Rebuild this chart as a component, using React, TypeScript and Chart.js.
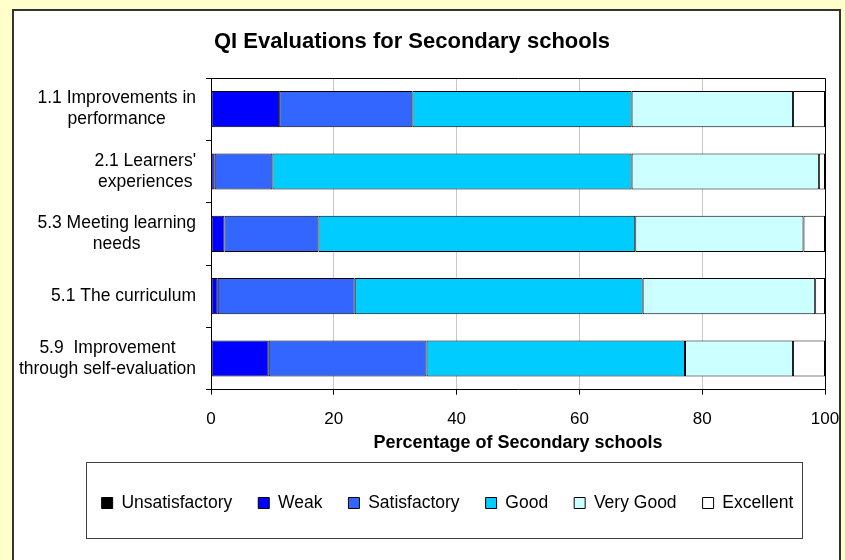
import React, { useEffect, useRef } from 'react';
import { Chart, registerables } from 'chart.js';

Chart.register(...registerables);

const FONT = '"Liberation Sans", Arial, Helvetica, sans-serif';

const chartTitle = 'QI Evaluations for Secondary schools';
const axisTitle = 'Percentage of Secondary schools';

const categories: string[][] = [
  ['1.1 Improvements in', 'performance'],
  ["2.1 Learners'", 'experiences'],
  ['5.3 Meeting learning', 'needs'],
  ['5.1 The curriculum'],
  ['5.9  Improvement', 'through self-evaluation'],
];

const seriesNames = ['Unsatisfactory', 'Weak', 'Satisfactory', 'Good', 'Very Good', 'Excellent'];
const unsatisfactory = [0, 0, 0, 0, 0];
const weak = [11.1, 0.6, 2.2, 1.1, 9.4];
const satisfactory = [21.7, 9.4, 15.3, 22.3, 25.7];
const good = [35.7, 58.5, 51.6, 46.9, 42.1];
const veryGood = [26.3, 30.5, 27.4, 28.1, 17.6];
const excellent = [5.2, 1.0, 3.5, 1.6, 5.2];
const seriesValues = [unsatisfactory, weak, satisfactory, good, veryGood, excellent];
const seriesColors = ['#000000', '#0000FF', '#3366FF', '#00CCFF', '#CCFFFF', '#FFFFFF'];

const xTicks = [0, 20, 40, 60, 80, 100];

const titlePlugin = {
  id: 'customTitle',
  afterDraw(chart: any) {
    const ctx = chart.ctx;
    ctx.save();
    ctx.font = `bold 22px ${FONT}`;
    ctx.fillStyle = '#000';
    ctx.textAlign = 'center';
    ctx.textBaseline = 'middle';
    ctx.fillText(chartTitle, 412, 42);
    ctx.restore();
  },
};

const framePlugin = {
  id: 'plotFrame',
  afterDraw(chart: any) {
    const { ctx, chartArea } = chart;
    ctx.save();
    ctx.strokeStyle = '#000';
    ctx.lineWidth = 1;
    ctx.beginPath();
    ctx.moveTo(chartArea.left, chartArea.top + 0.5);
    ctx.lineTo(chartArea.right + 0.5, chartArea.top + 0.5);
    ctx.lineTo(chartArea.right + 0.5, chartArea.bottom);
    ctx.stroke();
    ctx.restore();
  },
};

const yLabelPlugin = {
  id: 'yLabels',
  afterDraw(chart: any) {
    const { ctx, chartArea } = chart;
    const yScale = chart.scales.y;
    const lineH = 21;
    ctx.save();
    ctx.font = `17.5px ${FONT}`;
    ctx.fillStyle = '#000';
    ctx.textAlign = 'center';
    ctx.textBaseline = 'middle';
    const right = chartArea.left - 15;
    categories.forEach((lines, i) => {
      const cy = yScale.getPixelForTick(i);
      const w = Math.max(...lines.map((l) => ctx.measureText(l).width));
      const cx = right - w / 2;
      lines.forEach((line, j) => {
        const y = cy + (j - (lines.length - 1) / 2) * lineH;
        ctx.fillText(line, cx, y);
      });
    });
    ctx.restore();
  },
};

const legendBoxPlugin = {
  id: 'legendBox',
  afterDraw(chart: any) {
    const legend = chart.legend;
    if (!legend || !legend.legendHitBoxes || !legend.legendHitBoxes.length) return;
    const hb = legend.legendHitBoxes;
    const first = hb[0];
    const last = hb[hb.length - 1];
    const cy = first.top + first.height / 2;
    const left = first.left - 16;
    const right = last.left + last.width + 8;
    const top = cy - 41;
    const bottom = cy + 35;
    const ctx = chart.ctx;
    ctx.save();
    ctx.strokeStyle = '#404040';
    ctx.lineWidth = 1;
    ctx.strokeRect(Math.round(left) + 0.5, Math.round(top) + 0.5, Math.round(right - left), Math.round(bottom - top));
    ctx.restore();
  },
};

export default function App() {
  const canvasRef = useRef<HTMLCanvasElement | null>(null);

  useEffect(() => {
    if (!canvasRef.current) return;
    Chart.defaults.font.family = FONT;
    const chart = new Chart(canvasRef.current, {
      type: 'bar',
      data: {
        labels: categories,
        datasets: seriesNames.map((name, i) => ({
          label: name,
          data: seriesValues[i],
          backgroundColor: seriesColors[i],
          borderColor: '#000000',
          borderWidth: 1,
          borderSkipped: false,
          barPercentage: 0.58,
          categoryPercentage: 1,
        })),
      },
      options: {
        indexAxis: 'y',
        responsive: false,
        animation: false,
        devicePixelRatio: 1,
        layout: { padding: { top: 78, left: 70, right: 20, bottom: 38.25 } },
        scales: {
          x: {
            type: 'linear',
            stacked: true,
            min: 0,
            max: 100,
            afterBuildTicks: (scale: any) => {
              scale.ticks = xTicks.map((v) => ({ value: v }));
            },
            afterFit: (scale: any) => {
              scale.paddingRight = 0;
              scale.paddingLeft = 0;
            },
            grid: { color: '#C8C8C8', lineWidth: 1, tickLength: 5, tickColor: '#000' },
            border: { color: '#000', width: 1 },
            ticks: { font: { size: 17 }, color: '#000', padding: 14.3, maxRotation: 0 },
            title: {
              display: true,
              text: axisTitle,
              color: '#000',
              font: { size: 18, weight: 'bold' },
              padding: { top: -11.5, bottom: 14.45 },
            },
          },
          y: {
            type: 'category',
            stacked: true,
            offset: true,
            afterFit: (scale: any) => {
              scale.width = 141;
            },
            grid: { drawOnChartArea: false, offset: true, tickLength: 5, tickColor: '#000', color: '#000' },
            border: { color: '#000', width: 1 },
            ticks: { display: false },
          },
        },
        plugins: {
          title: { display: false },
          tooltip: { enabled: false },
          legend: {
            display: true,
            position: 'bottom',
            labels: {
              boxWidth: 11,
              boxHeight: 11,
              padding: 26,
              color: '#000',
              font: { size: 17.5 },
            },
          },
        },
      },
      plugins: [titlePlugin, framePlugin, yLabelPlugin, legendBoxPlugin],
    } as any);
    return () => chart.destroy();
  }, []);

  return (
    <div style={{ position: 'fixed', left: 0, top: 0, width: 845, height: 560, background: '#FFFFCC', overflow: 'hidden' }}>
      <div
        style={{
          position: 'absolute',
          left: 12,
          top: 9,
          width: 829,
          height: 600,
          boxSizing: 'border-box',
          background: '#FFFFFF',
          border: '2px solid #333333',
        }}
      />
      <canvas ref={canvasRef} width={845} height={560} style={{ position: 'absolute', left: 0, top: 0 }} />
    </div>
  );
}
